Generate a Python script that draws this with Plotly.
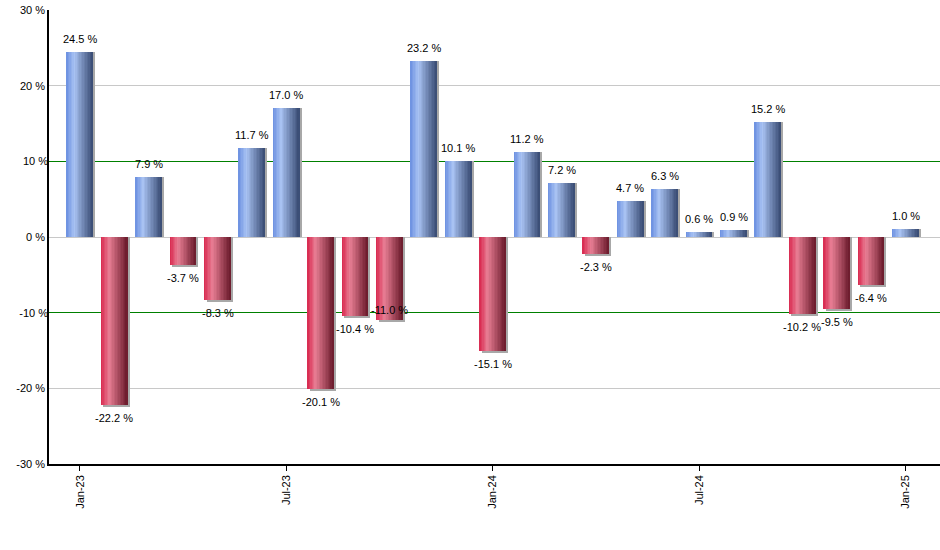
import plotly.graph_objects as go

months = ["Jan-23","Feb-23","Mar-23","Apr-23","May-23","Jun-23","Jul-23","Aug-23","Sep-23","Oct-23",
          "Nov-23","Dec-23","Jan-24","Feb-24","Mar-24","Apr-24","May-24","Jun-24","Jul-24","Aug-24",
          "Sep-24","Oct-24","Nov-24","Dec-24","Jan-25"]
values = [24.5, -22.2, 7.9, -3.7, -8.3, 11.7, 17.0, -20.1, -10.4, -11.0,
          23.2, 10.1, -15.1, 11.2, 7.2, -2.3, 4.7, 6.3, 0.6, 0.9,
          15.2, -10.2, -9.5, -6.4, 1.0]
tick_labels = ["Jan-23", "Jul-23", "Jan-24", "Jul-24", "Jan-25"]
tick_index = [0, 6, 12, 18, 24]
y_ticks = [-30, -20, 0, 20, 30]
y_tick_labels = ["%d %%" % v for v in y_ticks]
threshold_levels = [-10, 10]
threshold_labels = ["%d %%" % v for v in threshold_levels]

x = list(range(len(values)))

W = 0.76
N = 18
FONT = "Liberation Sans, Arial, sans-serif"

def hex2rgb(h):
    h = h.lstrip('#')
    return tuple(int(h[i:i+2], 16) for i in (0, 2, 4))

def grad(stops, t):
    for (t0, c0), (t1, c1) in zip(stops, stops[1:]):
        if t0 <= t <= t1:
            f = (t - t0) / (t1 - t0) if t1 > t0 else 0
            a, b = hex2rgb(c0), hex2rgb(c1)
            return "rgb(%d,%d,%d)" % tuple(round(a[k] + (b[k] - a[k]) * f) for k in range(3))
    a = hex2rgb(stops[-1][1])
    return "rgb(%d,%d,%d)" % a

blue_stops = [(0.0, "#6a8fe0"), (0.3, "#a9c3f3"), (1.0, "#374a72")]
red_stops = [(0.0, "#d8264d"), (0.32, "#e87e94"), (1.0, "#6a1a2b")]

fig = go.Figure()

# shadow
shadow_y = [v if v >= 0 else v - 0.27 for v in values]
fig.add_trace(go.Bar(x=x, y=shadow_y, width=W, offset=-W / 2 + 0.06,
                     marker=dict(color="#a8a8a8", line=dict(width=0)),
                     hoverinfo="skip", showlegend=False))

sw = W / N
for i in range(N):
    t = (i + 0.5) / N
    cols = [grad(blue_stops, t) if v >= 0 else grad(red_stops, t) for v in values]
    fig.add_trace(go.Bar(x=x, y=values, width=sw * 1.08, offset=-W / 2 + i * sw,
                         marker=dict(color=cols, line=dict(width=0)),
                         hoverinfo="skip", showlegend=False))

# helper trace so the overlaying axis (green threshold grid) is drawn
fig.add_trace(go.Scatter(x=[None], y=[None], yaxis="y2", mode="lines",
                         hoverinfo="skip", showlegend=False))

annotations = []
for i, v in enumerate(values):
    txt = "%.1f %%" % v
    if i == 9:
        annotations.append(dict(x=i, y=v, text=txt, showarrow=False, yanchor="middle", yshift=10,
                                font=dict(family=FONT, size=11, color="black")))
    elif v >= 0:
        annotations.append(dict(x=i, y=v, text=txt, showarrow=False, yanchor="bottom", yshift=5,
                                font=dict(family=FONT, size=11, color="black")))
    else:
        annotations.append(dict(x=i, y=v, text=txt, showarrow=False, yanchor="top", yshift=-5,
                                font=dict(family=FONT, size=11, color="black")))

fig.update_layout(
    width=940, height=550,
    margin=dict(l=49, r=0, t=10, b=86),
    paper_bgcolor="white", plot_bgcolor="white",
    barmode="overlay", bargap=0,
    showlegend=False,
    annotations=annotations,
    font=dict(family=FONT, size=11, color="black"),
    xaxis=dict(range=[-0.9, 25.0], tickmode="array", tickvals=tick_index, ticktext=tick_labels,
               tickangle=-90, ticks="outside", ticklen=5, tickcolor="black", tickwidth=1,
               showline=True, linecolor="black", linewidth=1.5, showgrid=False, zeroline=False,
               automargin=False,
               tickfont=dict(family=FONT, size=11, color="black")),
    yaxis=dict(range=[-30, 30], tickmode="array", tickvals=y_ticks, ticktext=y_tick_labels,
               showline=True, linecolor="black", linewidth=1.5,
               showgrid=True, gridcolor="#c8c8c8", gridwidth=1,
               zeroline=True, zerolinecolor="#c8c8c8", zerolinewidth=1,
               ticks="", ticklabeloverflow="allow", automargin=False,
               tickfont=dict(family=FONT, size=11, color="black")),
    yaxis2=dict(range=[-30, 30], overlaying="y", side="left", tickmode="array",
                tickvals=threshold_levels, ticktext=threshold_labels, showticklabels=True,
                ticks="", automargin=False,
                tickfont=dict(family=FONT, size=11, color="black"),
                showgrid=True, gridcolor="#008000", gridwidth=1, zeroline=False, showline=False),
)

fig.write_html("out.html", config={"displayModeBar": False},
               post_script="document.body.style.margin='0';")
